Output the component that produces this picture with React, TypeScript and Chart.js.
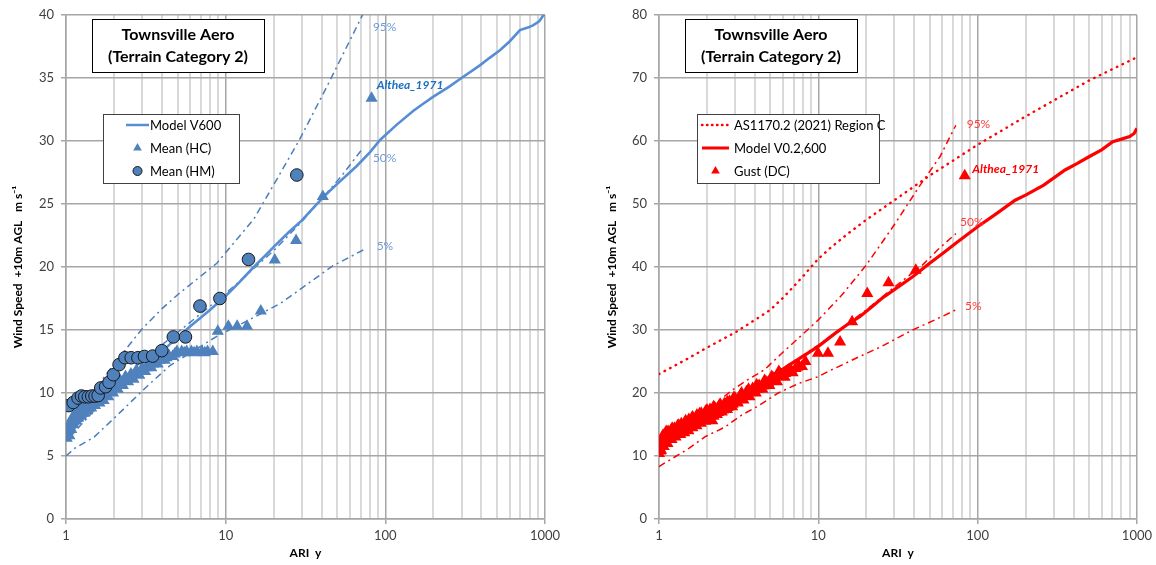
import React, { useEffect, useRef } from 'react';
import { Chart, registerables } from 'chart.js';
Chart.register(...registerables);

const FONT = 'Lato, "Open Sans", "DejaVu Sans", sans-serif';

// ---------- axes ----------
const X_GRID = [1, 2, 3, 4, 5, 6, 7, 8, 9, 10, 20, 30, 40, 50, 60, 70, 80, 90, 100, 200, 300, 400, 500, 600, 700, 800, 900, 1000];
const X_TICK_LABELS = [1, 10, 100, 1000];
const Y_LEFT_MAX = 40;
const Y_LEFT_STEP = 5;
const Y_RIGHT_MAX = 80;
const Y_RIGHT_STEP = 10;

// ---------- left panel (mean wind) ----------
const MODEL_V600 = [
  [1, 6.3], [1.1, 7.0], [1.2, 7.6], [1.35, 8.2], [1.5, 8.8], [1.7, 9.4], [2, 10.1], [2.3, 10.7], [2.6, 11.2],
  [3, 11.9], [3.5, 12.6], [4, 13.3], [4.5, 13.9], [5, 14.4], [6, 15.3], [7, 16.0], [8, 16.6], [10, 17.7],
  [12, 18.7], [15, 20.0], [18, 21.0], [20, 21.6], [25, 22.8], [30, 23.7], [36, 24.8], [42, 25.7], [50, 26.6],
  [66, 28.0], [80, 29.1], [93, 30.1], [118, 31.3], [150, 32.4], [170, 32.9], [199, 33.5], [250, 34.3],
  [300, 35.0], [391, 36.0], [450, 36.6], [522, 37.2], [600, 37.9], [697, 38.8], [780, 39.0], [846, 39.2],
  [920, 39.5], [980, 40.0], [1000, 40.1],
];
const CI95_LEFT = [[1, 7.2], [1.5, 10.2], [2, 12.3], [3, 15.1], [4, 16.7], [5, 17.8], [8.8, 20.3], [15, 23.8], [21, 27.0], [29, 30.1], [45, 34.8], [72, 40.0]];
const CI50_LEFT = [[1, 6.2], [1.5, 8.6], [2, 10.2], [3, 12.6], [5, 14.8], [10, 17.9], [20, 21.3], [30, 23.6], [53, 27.2], [72, 29.4]];
const CI05_LEFT = [[1, 5.0], [1.13, 5.6], [1.5, 6.5], [2.2, 8.5], [3.2, 10.5], [4.5, 12.2], [8.8, 14.5], [15, 16.0], [22, 17.1], [47, 20.1], [74, 21.4]];
const MEAN_HC = [
  [1.01, 6.4], [1.02, 6.9], [1.03, 7.3], [1.05, 6.6], [1.06, 7.6], [1.08, 7.1], [1.09, 8.0], [1.11, 7.5],
  [1.13, 8.3], [1.15, 7.8], [1.17, 8.6], [1.19, 8.0], [1.21, 8.9], [1.24, 8.2], [1.27, 9.2], [1.30, 8.4],
  [1.33, 9.3], [1.36, 8.6], [1.40, 9.5], [1.44, 8.8], [1.48, 9.7], [1.52, 9.0], [1.57, 9.8], [1.62, 9.2],
  [1.67, 9.9], [1.72, 9.4], [1.78, 10.1], [1.84, 9.7], [1.90, 10.4], [1.97, 10.0], [2.04, 10.7], [2.11, 10.3],
  [2.19, 11.0], [2.27, 10.6], [2.36, 11.3], [2.45, 10.9], [2.55, 11.5], [2.65, 11.1], [2.76, 11.8], [2.88, 11.4],
  [3.0, 12.0], [3.13, 11.7], [3.27, 12.3], [3.42, 12.0], [3.58, 12.6], [3.75, 12.3], [3.95, 12.9], [4.15, 12.6],
  [4.4, 13.0], [4.65, 12.9], [4.95, 13.3], [5.3, 13.3], [5.7, 13.3], [6.1, 13.3], [6.6, 13.3], [7.1, 13.3],
  [7.7, 13.3], [8.3, 13.3], [8.93, 14.9], [10.4, 15.3], [11.8, 15.3], [13.6, 15.3], [16.6, 16.5], [20.3, 20.55],
  [27.6, 22.1], [40.6, 25.6], [82, 33.4],
  [1.04, 7.0], [1.10, 7.8], [1.16, 8.2], [1.22, 8.6], [1.29, 8.9], [1.38, 9.1], [1.46, 9.3], [1.55, 9.5],
  [1.65, 9.6], [1.75, 9.8], [1.87, 10.1], [2.0, 10.4], [2.15, 10.7], [2.31, 11.0], [2.5, 11.2], [2.7, 11.5],
  [2.94, 11.7], [3.2, 12.0], [3.5, 12.3], [3.85, 12.6], [4.27, 12.8], [4.8, 13.1], [5.5, 13.2], [6.35, 13.2], [7.4, 13.2],
];
const MEAN_HM = [
  [1.04, 9.0], [1.11, 9.25], [1.19, 9.6], [1.25, 9.76], [1.31, 9.7], [1.38, 9.7], [1.45, 9.76], [1.52, 9.76],
  [1.59, 9.8], [1.65, 10.4], [1.77, 10.5], [1.86, 10.85], [1.98, 11.45], [2.15, 12.25], [2.34, 12.8],
  [2.56, 12.8], [2.82, 12.8], [3.1, 12.9], [3.49, 12.93], [3.98, 13.36], [4.7, 14.45], [5.6, 14.45],
  [6.9, 16.9], [9.2, 17.5], [13.9, 20.6], [27.9, 27.3],
];

// ---------- right panel (gust) ----------
const AS1170_C = [
  [1, 23.0], [1.5, 25.4], [2, 27.2], [3, 29.6], [4, 31.6], [5, 33.2], [6, 35.1], [7, 36.9], [8, 38.5],
  [9, 40.0], [10, 41.3], [12, 43.1], [15, 45.1], [20, 47.5], [30, 50.6], [50, 54.5], [100, 59.4],
  [200, 63.9], [500, 69.6], [1000, 73.3],
];
const MODEL_V02 = [
  [1, 10.5], [1.05, 11.3], [1.1, 12.0], [1.2, 12.9], [1.35, 13.9], [1.5, 14.7], [1.7, 15.6], [2, 16.6],
  [2.3, 17.5], [2.6, 18.3], [3, 19.2], [3.5, 20.2], [4, 21.0], [5, 22.6], [6, 23.8], [7, 24.9], [8, 25.8],
  [10, 27.4], [12.8, 29.5], [15.7, 31.1], [18.2, 32.1], [22, 33.8], [25, 35.0], [30, 36.4], [39.3, 38.5],
  [50, 40.6], [60, 42.1], [75, 44.0], [100, 46.4], [130, 48.4], [172, 50.6], [200, 51.4], [260, 53.0],
  [354, 55.4], [420, 56.4], [500, 57.5], [600, 58.6], [705, 59.9], [800, 60.3], [900, 60.7], [960, 61.2], [1000, 62.0],
];
const CI95_RIGHT = [[1, 10.8], [1.5, 14.5], [2, 17.3], [2.9, 20.5], [3.6, 22.1], [4.6, 23.7], [5.9, 26.3], [7.5, 28.7], [10, 31.6], [14, 35.5], [20, 40.3], [30, 46.7], [43.6, 53.0], [58, 57.5], [73, 62.5]];
const CI50_RIGHT = [[1, 10.6], [1.5, 14.2], [2, 16.4], [3, 19.2], [5, 22.7], [7, 25.0], [10, 27.6], [15, 30.8], [20, 33.2], [30, 36.8], [45, 40.3], [56, 42.7], [73, 45.3]];
const CI05_RIGHT = [[1, 8.3], [1.04, 8.6], [1.54, 11.2], [1.96, 13.1], [2.6, 14.6], [3.3, 16.5], [4.1, 17.8], [5.6, 20.0], [7.5, 21.5], [10, 22.6], [11.5, 23.4], [18.2, 25.8], [25, 27.4], [39, 30.0], [55, 31.7], [73, 33.2]];
const GUST_DC = [
  [1.0, 10.4], [1.01, 11.2], [1.02, 12.0], [1.03, 10.9], [1.04, 12.8], [1.05, 11.6], [1.06, 13.3], [1.08, 12.2],
  [1.10, 13.6], [1.12, 12.6], [1.14, 13.9], [1.16, 12.9], [1.19, 14.1], [1.22, 13.2], [1.25, 14.4], [1.28, 13.5],
  [1.31, 14.8], [1.34, 13.8], [1.38, 15.1], [1.42, 14.0], [1.46, 15.4], [1.50, 14.3], [1.54, 15.8], [1.58, 14.6],
  [1.63, 16.1], [1.68, 15.0], [1.73, 16.5], [1.78, 15.3], [1.84, 16.8], [1.90, 15.7], [1.96, 17.1], [2.02, 16.0],
  [2.09, 17.4], [2.16, 15.6], [2.23, 17.7], [2.31, 16.6], [2.39, 18.0], [2.48, 17.0], [2.57, 18.3], [2.67, 17.4],
  [2.77, 18.7], [2.88, 17.8], [3.0, 19.2], [3.12, 18.4], [3.25, 19.7], [3.39, 18.9], [3.54, 20.2], [3.70, 19.4],
  [3.87, 20.7], [4.05, 20.0], [4.25, 21.2], [4.46, 20.6], [4.69, 21.8], [4.93, 21.2], [5.2, 22.4], [5.5, 21.8],
  [5.8, 23.0], [6.15, 22.5], [6.5, 23.6], [6.9, 23.2], [7.2, 23.9], [7.5, 24.5], [7.9, 24.2], [8.3, 25.0],
  [9.96, 26.3], [11.5, 26.3], [13.7, 28.1], [16.3, 31.3], [20.3, 35.8], [27.6, 37.5], [40.9, 39.5], [83, 54.5],
  [1.02, 10.8], [1.07, 11.5], [1.13, 12.0], [1.2, 12.6], [1.27, 13.0], [1.36, 13.4], [1.44, 13.7], [1.53, 14.0],
  [1.62, 14.5], [1.72, 14.8], [1.83, 15.2], [1.95, 15.5], [2.07, 15.9], [2.2, 16.3], [2.35, 16.9], [2.52, 17.3],
  [2.7, 17.7], [2.9, 18.2], [3.1, 18.6], [3.32, 19.1], [3.57, 19.6], [3.85, 20.1], [4.15, 20.6], [4.5, 21.1],
  [4.85, 21.6], [5.25, 22.1], [5.7, 22.6], [6.2, 23.1], [6.75, 23.6], [7.35, 24.1],
  [1.11, 13.9], [1.21, 14.4], [1.33, 14.9], [1.47, 15.6], [1.62, 16.2], [1.8, 16.7], [2.0, 17.3], [2.2, 17.8],
  [2.42, 18.2], [2.68, 18.6], [2.95, 19.3], [3.3, 20.0], [3.65, 20.6], [4.1, 21.3], [4.6, 22.0], [5.1, 22.6], [5.65, 23.4],
];

// ---------- text annotations (data coordinates) ----------
const LEFT_NOTES = [
  { text: '95%', x: 83.6, y: 39.05, bold: false },
  { text: '50%', x: 83.6, y: 28.65, bold: false },
  { text: '5%', x: 88.2, y: 21.67, bold: false },
  { text: 'Althea_1971', x: 88.2, y: 34.44, bold: true },
];
const RIGHT_NOTES = [
  { text: '95%', x: 85.4, y: 62.7, bold: false },
  { text: '50%', x: 77.5, y: 47.2, bold: false },
  { text: '5%', x: 83.4, y: 33.8, bold: false },
  { text: 'Althea_1971', x: 92.6, y: 55.5, bold: true },
];

const TITLE_LINES = ['Townsville Aero', '(Terrain Category 2)'];
const LEFT_LEGEND = ['Model V600', 'Mean (HC)', 'Mean (HM)'];
const RIGHT_LEGEND = ['AS1170.2 (2021) Region C', 'Model V0.2,600', 'Gust (DC)'];

const BLUE_LINE = '#558ED5';
const BLUE_MARK = '#4F81BD';
const BLUE_DASH = '#4A7EBB';
const BLUE_NOTE = '#6E9CD6';
const BLUE_ALTHEA = '#1C70C0';
const RED = '#FF0000';
const RED_NOTE = '#FF3B3B';

const pts = (a: number[][]) => a.map(([x, y]) => ({ x, y }));

const lineDs = (label: string, data: number[][], color: string, width: number, dash: number[] = [], cap = 'butt') => ({
  label, data: pts(data), showLine: true, borderColor: color, backgroundColor: color, borderWidth: width,
  borderDash: dash, borderCapStyle: cap, pointRadius: 0, pointHoverRadius: 0, fill: false, tension: 0,
});

const isMajor = (v: number) => X_TICK_LABELS.includes(v);

function scales(yMax: number, yStep: number, yWidth: number, yTitlePad: number) {
  return {
    x: {
      type: 'logarithmic', min: 1, max: 1000,
      afterBuildTicks: (s: any) => { s.ticks = X_GRID.map((v) => ({ value: v })); },
      afterFit: (s: any) => { s.height = 46; },
      ticks: {
        autoSkip: false, maxRotation: 0, minRotation: 0, padding: 4, color: '#404040',
        font: { family: FONT, size: 13 },
        callback: (v: any) => (isMajor(Number(v)) ? String(v) : ''),
      },
      grid: {
        color: (c: any) => (c.tick && isMajor(c.tick.value) ? '#A6A6A6' : '#D9D9D9'),
        lineWidth: (c: any) => (c.tick && isMajor(c.tick.value) ? 1.5 : 2),
        tickLength: 5,
        tickColor: (c: any) => (c.tick && isMajor(c.tick.value) ? '#A6A6A6' : 'rgba(0,0,0,0)'),
      },
      border: { color: '#A6A6A6', width: 1.5 },
      title: {
        display: true, text: 'ARI  y', color: '#000',
        font: { family: FONT, size: 12, weight: 'bold' }, padding: { top: 0, bottom: 5 },
      },
    },
    y: {
      type: 'linear', min: 0, max: yMax,
      afterFit: (s: any) => { s.width = yWidth; },
      ticks: { stepSize: yStep, padding: 7, color: '#404040', font: { family: FONT, size: 13 } },
      grid: { color: '#A6A6A6', lineWidth: 1.5, tickLength: 5 },
      border: { color: '#A6A6A6', width: 1.5 },
      title: {
        display: true, text: 'Wind Speed  +10m AGL   m s\u207B\u00B9', color: '#000',
        font: { family: FONT, size: 12, weight: 'bold' }, padding: { top: yTitlePad, bottom: 0 },
      },
    },
  };
}

function drawTriangle(ctx: CanvasRenderingContext2D, x: number, y: number, r: number, color: string) {
  ctx.beginPath();
  ctx.moveTo(x, y - r);
  ctx.lineTo(x + r * 0.866, y + r * 0.5);
  ctx.lineTo(x - r * 0.866, y + r * 0.5);
  ctx.closePath();
  ctx.fillStyle = color;
  ctx.fill();
}

function overlay(opts: any) {
  return {
    id: 'overlay',
    afterDraw(chart: any) {
      const ctx: CanvasRenderingContext2D = chart.ctx;
      const xs = chart.scales.x;
      const ys = chart.scales.y;
      ctx.save();
      const tb = opts.titleBox;
      ctx.fillStyle = '#fff';
      ctx.fillRect(tb.x, tb.y, tb.w, tb.h);
      ctx.strokeStyle = '#000';
      ctx.lineWidth = 1;
      ctx.strokeRect(tb.x + 0.5, tb.y + 0.5, tb.w, tb.h);
      ctx.fillStyle = '#000';
      ctx.font = `bold 16px ${FONT}`;
      ctx.textAlign = 'center';
      ctx.textBaseline = 'middle';
      ctx.fillText(TITLE_LINES[0], tb.x + tb.w / 2, tb.y + 16);
      ctx.fillText(TITLE_LINES[1], tb.x + tb.w / 2, tb.y + 38);
      const lb = opts.legendBox;
      ctx.fillStyle = '#fff';
      ctx.fillRect(lb.x, lb.y, lb.w, lb.h);
      ctx.strokeStyle = '#404040';
      ctx.strokeRect(lb.x + 0.5, lb.y + 0.5, lb.w, lb.h);
      ctx.font = `13px ${FONT}`;
      ctx.textAlign = 'left';
      opts.legendItems.forEach((it: any, i: number) => {
        const yy = lb.y + 11 + i * 23;
        const cx = (lb.sx0 + lb.sx1) / 2;
        if (it.kind === 'line' || it.kind === 'dots') {
          ctx.beginPath();
          ctx.strokeStyle = it.color;
          ctx.lineWidth = it.width;
          if (it.kind === 'dots') { ctx.setLineDash([0.5, 4.5]); ctx.lineCap = 'round'; }
          ctx.moveTo(lb.sx0, yy);
          ctx.lineTo(lb.sx1, yy);
          ctx.stroke();
          ctx.setLineDash([]);
          ctx.lineCap = 'butt';
        } else if (it.kind === 'tri') {
          drawTriangle(ctx, cx, yy, 5, it.color);
        } else if (it.kind === 'circle') {
          ctx.beginPath();
          ctx.arc(cx, yy, 4.5, 0, Math.PI * 2);
          ctx.fillStyle = it.color;
          ctx.fill();
          ctx.lineWidth = 1;
          ctx.strokeStyle = '#1a1a1a';
          ctx.stroke();
        }
        ctx.fillStyle = '#000';
        ctx.fillText(it.label, lb.tx, yy + 1);
      });
      for (const n of opts.notes) {
        ctx.font = n.bold ? `italic bold 12px ${FONT}` : `12px ${FONT}`;
        ctx.fillStyle = n.bold ? opts.altheaColor : opts.noteColor;
        ctx.textAlign = 'left';
        ctx.textBaseline = 'middle';
        ctx.fillText(n.text, xs.getPixelForValue(n.x), ys.getPixelForValue(n.y));
      }
      ctx.restore();
    },
  };
}

function leftConfig(): any {
  return {
    type: 'scatter',
    data: {
      datasets: [
        { label: LEFT_LEGEND[2], data: pts(MEAN_HM), pointStyle: 'circle', pointRadius: 6.3, backgroundColor: BLUE_MARK, borderColor: '#1a1a1a', borderWidth: 1 },
        { label: LEFT_LEGEND[1], data: pts(MEAN_HC), pointStyle: 'triangle', pointRadius: 7, backgroundColor: BLUE_MARK, borderColor: BLUE_MARK, borderWidth: 0 },
        lineDs(LEFT_LEGEND[0], MODEL_V600, BLUE_LINE, 2.6),
        lineDs('95%', CI95_LEFT, BLUE_DASH, 1.5, [7, 4, 2, 4]),
        lineDs('50%', CI50_LEFT, BLUE_DASH, 1.5, [7, 4, 2, 4]),
        lineDs('5%', CI05_LEFT, BLUE_DASH, 1.5, [7, 4, 2, 4]),
      ],
    },
    options: {
      responsive: false, animation: false, events: [],
      layout: { padding: { left: 0, right: 33, top: 15, bottom: 0 } },
      plugins: { legend: { display: false }, tooltip: { enabled: false }, title: { display: false } },
      scales: scales(Y_LEFT_MAX, Y_LEFT_STEP, 66, 11),
    },
    plugins: [overlay({
      titleBox: { x: 92, y: 19, w: 172, h: 53 },
      legendBox: { x: 103, y: 114, w: 136, h: 69, sx0: 126, sx1: 149, tx: 150 },
      legendItems: [
        { kind: 'line', color: BLUE_LINE, width: 2.5, label: LEFT_LEGEND[0] },
        { kind: 'tri', color: BLUE_MARK, label: LEFT_LEGEND[1] },
        { kind: 'circle', color: BLUE_MARK, label: LEFT_LEGEND[2] },
      ],
      notes: LEFT_NOTES, noteColor: BLUE_NOTE, altheaColor: BLUE_ALTHEA,
    })],
  };
}

function rightConfig(): any {
  return {
    type: 'scatter',
    data: {
      datasets: [
        { label: RIGHT_LEGEND[2], data: pts(GUST_DC), pointStyle: 'triangle', pointRadius: 7, backgroundColor: RED, borderColor: RED, borderWidth: 0 },
        lineDs(RIGHT_LEGEND[1], MODEL_V02, RED, 3.2),
        lineDs(RIGHT_LEGEND[0], AS1170_C, RED, 2.4, [0.5, 5.8], 'round'),
        lineDs('95%', CI95_RIGHT, RED, 1.5, [7, 4, 2, 4]),
        lineDs('50%', CI50_RIGHT, RED, 1.5, [7, 4, 2, 4]),
        lineDs('5%', CI05_RIGHT, RED, 1.5, [7, 4, 2, 4]),
      ],
    },
    options: {
      responsive: false, animation: false, events: [],
      layout: { padding: { left: 0, right: 19, top: 15, bottom: 0 } },
      plugins: { legend: { display: false }, tooltip: { enabled: false }, title: { display: false } },
      scales: scales(Y_RIGHT_MAX, Y_RIGHT_STEP, 81, 27),
    },
    plugins: [overlay({
      titleBox: { x: 107, y: 19, w: 172, h: 53 },
      legendBox: { x: 119, y: 114, w: 182, h: 69, sx0: 124, sx1: 151, tx: 156 },
      legendItems: [
        { kind: 'dots', color: RED, width: 2.4, label: RIGHT_LEGEND[0] },
        { kind: 'line', color: RED, width: 3, label: RIGHT_LEGEND[1] },
        { kind: 'tri', color: RED, label: RIGHT_LEGEND[2] },
      ],
      notes: RIGHT_NOTES, noteColor: RED_NOTE, altheaColor: RED,
    })],
  };
}

function Panel({ build, left }: { build: () => any; left: number }) {
  const ref = useRef<HTMLCanvasElement>(null);
  useEffect(() => {
    const chart = new Chart(ref.current as HTMLCanvasElement, build());
    return () => chart.destroy();
  }, []);
  return (
    <canvas
      ref={ref}
      width={578}
      height={565}
      style={{ position: 'absolute', left, top: 0, width: 578, height: 565 }}
    />
  );
}

export default function App() {
  return (
    <div style={{ position: 'absolute', left: 0, top: 0, width: 1156, height: 565, background: '#fff', overflow: 'hidden' }}>
      <Panel build={leftConfig} left={0} />
      <Panel build={rightConfig} left={578} />
    </div>
  );
}
